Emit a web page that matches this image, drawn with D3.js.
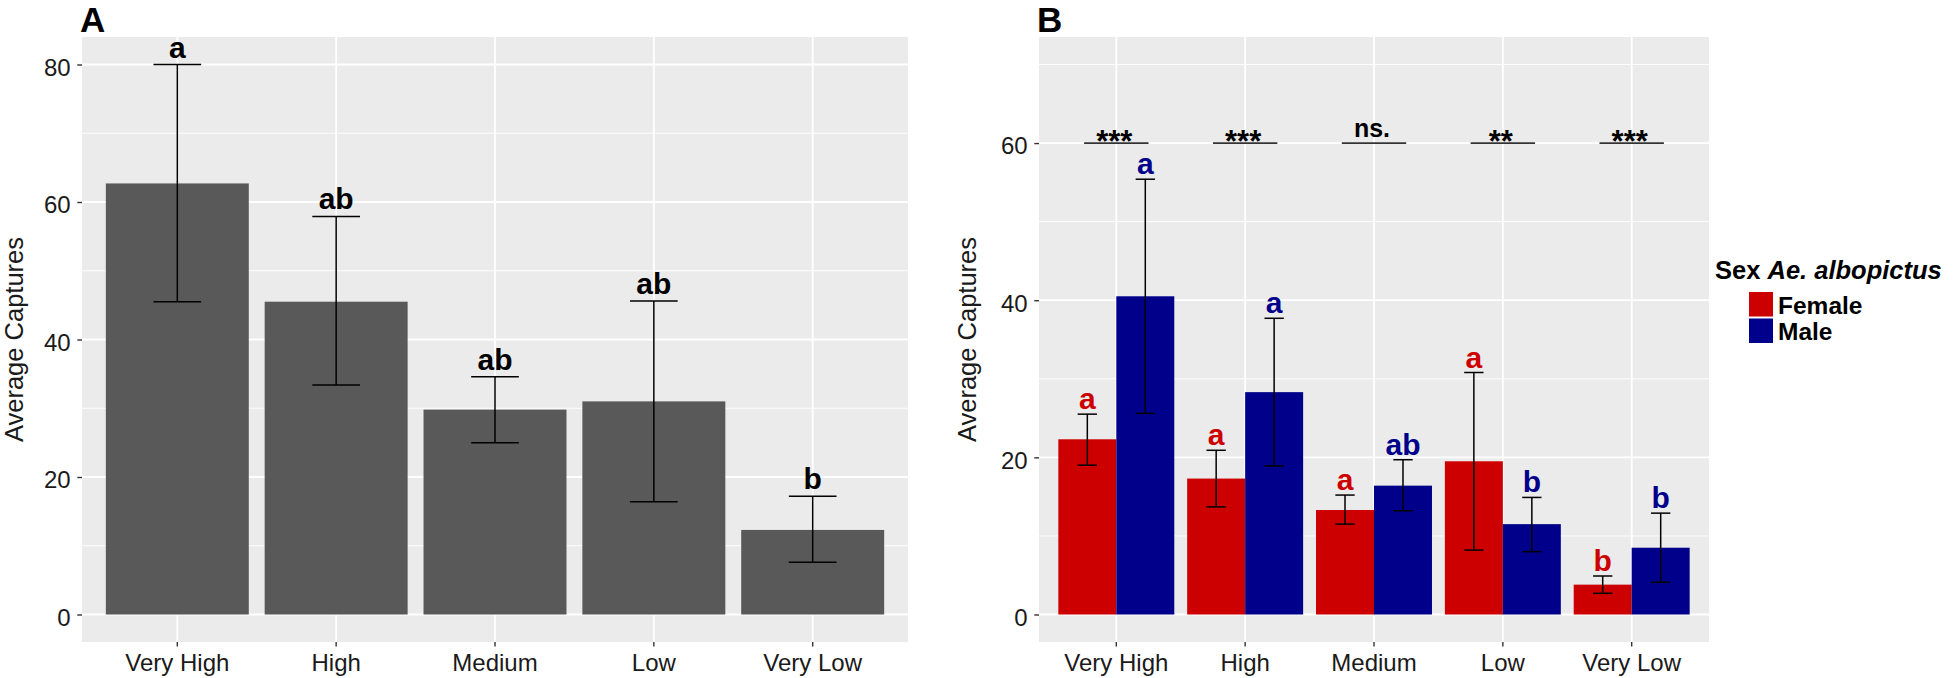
<!DOCTYPE html>
<html>
<head>
<meta charset="utf-8">
<script src="https://cdn.jsdelivr.net/npm/d3@7"></script>
<style>
  body { margin: 0; background: #fff; }
  svg { display: block; }
  text { font-family: "Liberation Sans", Arial, Helvetica, sans-serif; }
</style>
</head>
<body>
<div id="chart"></div>
<script>
// Categories and values
const categories = ["Very High", "High", "Medium", "Low", "Very Low"];

// Panel A - all captures
const totalMean = [62.7, 45.5, 29.8, 31.0, 12.3];
const totalLow = [45.5, 33.4, 25.0, 16.4, 7.6];
const totalHigh = [80.0, 57.9, 34.6, 45.6, 17.2];
const totalLetters = ["a", "ab", "ab", "ab", "b"];

// Panel B - by sex
const sexes = ["Female", "Male"];
const femaleMean = [22.3, 17.3, 13.3, 19.5, 3.8];
const femaleLow = [19.0, 13.7, 11.5, 8.2, 2.7];
const femaleHigh = [25.5, 20.9, 15.2, 30.8, 4.9];
const femaleLetters = ["a", "a", "a", "a", "b"];
const maleMean = [40.5, 28.3, 16.4, 11.5, 8.5];
const maleLow = [25.6, 18.9, 13.2, 8.0, 4.1];
const maleHigh = [55.4, 37.7, 19.7, 14.9, 12.9];
const maleLetters = ["a", "a", "ab", "b", "b"];
const sigLabels = ["***", "***", "ns.", "**", "***"];
const sigLevel = 60;

// Axis ticks
const yTicksA = [0, 20, 40, 60, 80];
const yMinorA = [10, 30, 50, 70];
const yTicksB = [0, 20, 40, 60];
const yMinorB = [10, 30, 50, 70];

const sexColors = { Female: "#CD0000", Male: "#00008B" };

let svg = d3.select("#chart").append("svg")
    .attr("width", 1960)
    .attr("height", 678);

// Grey panel, grid and axes (ggplot look)
function drawFrame(x, y, majorTicks, minorTicks, titleX) {
    let [x0, x1] = x.range();
    let [yBottom, yTop] = y.range();
    let g = svg.append("g");

    g.append("rect")
        .attr("x", x0).attr("y", yTop)
        .attr("width", x1 - x0).attr("height", yBottom - yTop)
        .attr("fill", "#EBEBEB");

    g.selectAll(".minor").data(minorTicks).enter().append("line")
        .attr("x1", x0).attr("x2", x1)
        .attr("y1", d => y(d)).attr("y2", d => y(d))
        .attr("stroke", "#fff").attr("stroke-width", 0.9);

    g.selectAll(".major").data(majorTicks).enter().append("line")
        .attr("x1", x0).attr("x2", x1)
        .attr("y1", d => y(d)).attr("y2", d => y(d))
        .attr("stroke", "#fff").attr("stroke-width", 1.8);

    g.selectAll(".vgrid").data(x.domain()).enter().append("line")
        .attr("x1", d => x(d) + x.bandwidth() / 2).attr("x2", d => x(d) + x.bandwidth() / 2)
        .attr("y1", yTop).attr("y2", yBottom)
        .attr("stroke", "#fff").attr("stroke-width", 1.8);

    let yAxis = svg.append("g")
        .attr("transform", "translate(" + x0 + ",0)")
        .call(d3.axisLeft(y).tickValues(majorTicks).tickSize(4.7).tickPadding(6.6));
    yAxis.selectAll("text").attr("dy", "0.45em");

    let xAxis = svg.append("g")
        .attr("transform", "translate(0," + yBottom + ")")
        .call(d3.axisBottom(x).tickSize(4.5).tickPadding(7.5));

    [yAxis, xAxis].forEach(function(ax) {
        ax.select(".domain").remove();
        ax.selectAll(".tick line").attr("stroke", "#333").attr("stroke-width", 1.4);
        ax.selectAll("text")
            .attr("fill", "#1a1a1a")
            .style("font-size", "24px")
            .style("font-family", '"Liberation Sans", Arial, sans-serif');
    });

    svg.append("text")
        .attr("transform", "translate(" + titleX + "," + ((yTop + yBottom) / 2) + ") rotate(-90)")
        .attr("text-anchor", "middle")
        .style("font-size", "25.5px")
        .attr("fill", "#1a1a1a")
        .text("Average Captures");
}

// Error bar with caps
function errorBar(cx, half, yLow, yHigh) {
    let g = svg.append("g").attr("stroke", "#000").attr("stroke-width", 1.5);
    g.append("line").attr("x1", cx).attr("x2", cx).attr("y1", yLow).attr("y2", yHigh);
    g.append("line").attr("x1", cx - half).attr("x2", cx + half).attr("y1", yLow).attr("y2", yLow);
    g.append("line").attr("x1", cx - half).attr("x2", cx + half).attr("y1", yHigh).attr("y2", yHigh);
}

// ---------- Panel A ----------
let xA = d3.scaleBand().domain(categories).range([82, 908]).paddingInner(0.1).paddingOuter(0.15);
let yA = d3.scaleLinear().domain([-4, 84]).range([642, 37]);

drawFrame(xA, yA, yTicksA, yMinorA, 23);

svg.append("g").selectAll("rect").data(categories).enter().append("rect")
    .attr("x", d => xA(d))
    .attr("width", xA.bandwidth())
    .attr("y", (d, i) => yA(totalMean[i]))
    .attr("height", (d, i) => yA(0) - yA(totalMean[i]))
    .attr("fill", "#595959");

categories.forEach(function(c, i) {
    let cx = xA(c) + xA.bandwidth() / 2;
    errorBar(cx, xA.step() * 0.15, yA(totalLow[i]), yA(totalHigh[i]));
    svg.append("text")
        .attr("x", cx).attr("y", yA(totalHigh[i]) - 7)
        .attr("text-anchor", "middle")
        .style("font-size", "30px").style("font-weight", "bold")
        .text(totalLetters[i]);
});

svg.append("text").attr("x", 80).attr("y", 32)
    .style("font-size", "35px").style("font-weight", "bold")
    .text("A");

// ---------- Panel B ----------
let xB = d3.scaleBand().domain(categories).range([1039, 1709]).paddingInner(0.1).paddingOuter(0.15);
let xSex = d3.scaleBand().domain(sexes).range([0, xB.bandwidth()]);
let yB = d3.scaleLinear().domain([-3.5, 73.5]).range([642, 37]);

drawFrame(xB, yB, yTicksB, yMinorB, 976);

let rows = [];
categories.forEach(function(c, i) {
    rows.push({ cat: c, sex: "Female", mean: femaleMean[i], low: femaleLow[i], high: femaleHigh[i], letter: femaleLetters[i] });
    rows.push({ cat: c, sex: "Male", mean: maleMean[i], low: maleLow[i], high: maleHigh[i], letter: maleLetters[i] });
});

svg.append("g").selectAll("rect").data(rows).enter().append("rect")
    .attr("x", d => xB(d.cat) + xSex(d.sex))
    .attr("width", xSex.bandwidth())
    .attr("y", d => yB(d.mean))
    .attr("height", d => yB(0) - yB(d.mean))
    .attr("fill", d => sexColors[d.sex]);

rows.forEach(function(d) {
    let cx = xB(d.cat) + xSex(d.sex) + xSex.bandwidth() / 2;
    errorBar(cx, xB.step() * 0.075, yB(d.low), yB(d.high));
    svg.append("text")
        .attr("x", cx).attr("y", yB(d.high) - 5)
        .attr("text-anchor", "middle")
        .attr("fill", sexColors[d.sex])
        .style("font-size", "30px").style("font-weight", "bold")
        .text(d.letter);
});

// significance between sexes
categories.forEach(function(c, i) {
    let cx = xB(c) + xB.bandwidth() / 2;
    let half = xB.step() * 0.25;
    svg.append("line")
        .attr("x1", cx - half).attr("x2", cx + half)
        .attr("y1", yB(sigLevel)).attr("y2", yB(sigLevel))
        .attr("stroke", "#333").attr("stroke-width", 1.8);
    let isStars = sigLabels[i].indexOf("*") >= 0;
    svg.append("text")
        .attr("x", cx - 2)
        .attr("y", isStars ? yB(sigLevel) + 9 : yB(sigLevel) - 6)
        .attr("text-anchor", "middle")
        .style("font-size", isStars ? "31px" : "25px")
        .style("font-weight", "bold")
        .text(sigLabels[i]);
});

svg.append("text").attr("x", 1037).attr("y", 32)
    .style("font-size", "35px").style("font-weight", "bold")
    .text("B");

// Legend
let legendTitle = svg.append("text").attr("x", 1715).attr("y", 279)
    .style("font-size", "25.5px").style("font-weight", "bold");
legendTitle.append("tspan").text("Sex ");
legendTitle.append("tspan").style("font-style", "italic").text("Ae. albopictus");

sexes.forEach(function(s, i) {
    let top = 292 + i * 26.5;
    svg.append("rect")
        .attr("x", 1749).attr("y", top)
        .attr("width", 24).attr("height", 24.5)
        .attr("fill", sexColors[s]);
    svg.append("text")
        .attr("x", 1778).attr("y", top + 21.5)
        .style("font-size", "24.5px").style("font-weight", "bold")
        .text(s);
});
</script>
</body>
</html>
